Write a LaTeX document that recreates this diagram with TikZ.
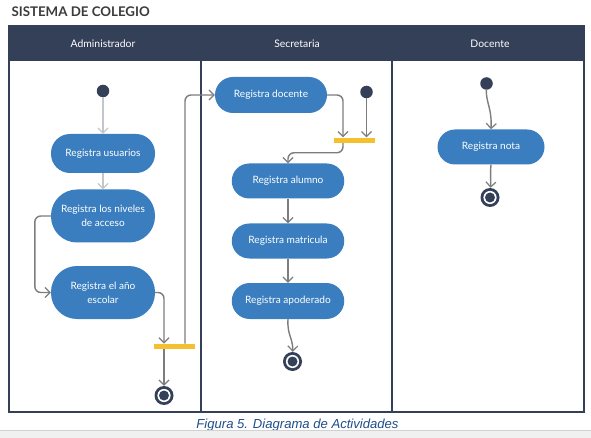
\documentclass[tikz,border=0pt]{standalone}
\usepackage{fontspec}
\setmainfont{Lato}
\newfontfamily\capfont{Liberation Sans}
\usetikzlibrary{arrows.meta,calc}
\definecolor{navy}{RGB}{52,63,88}
\definecolor{actblue}{RGB}{58,126,191}
\definecolor{baryellow}{RGB}{245,192,48}
\definecolor{flowgray}{RGB}{125,125,125}
\definecolor{lightflow}{RGB}{195,198,202}
\definecolor{capblue}{RGB}{31,78,137}
\definecolor{titlegray}{RGB}{60,60,60}
\begin{document}
\begin{tikzpicture}[x=1pt,y=-1pt,
  act/.style={fill=actblue, text=white, inner sep=0pt, align=center, font=\fontsize{10.1}{14}\selectfont},
  startnode/.style={circle, fill=navy, inner sep=0pt, minimum size=12.5pt},
  endnode/.style={circle, fill=navy, inner sep=0pt, minimum size=19pt,
     path picture={\fill[white] (path picture bounding box.center) circle (6.6pt);
                   \fill[navy] (path picture bounding box.center) circle (5pt);}},
  forkbar/.style={fill=baryellow, inner sep=0pt, minimum width=41pt, minimum height=5.5pt},
  flow/.style={draw=flowgray, line width=1.4pt, rounded corners=6pt, -{Straight Barb[length=5pt,width=10pt,line width=1.2pt]}},
  lflow/.style={flow, draw=lightflow},
  lane/.style={draw=navy, line width=1.6pt},
  headtxt/.style={text=white, font=\fontsize{10.4}{12}\selectfont}
]
\useasboundingbox (0,0) rectangle (591,438);
\fill[white] (0,0) rectangle (591,438);
% title
\node[anchor=west, font=\bfseries\fontsize{13.3}{15}\selectfont, text=titlegray] (title) at (8,12) {SISTEMA DE COLEGIO};
% frame
\fill[navy] (9,26) rectangle (584,61);
\draw[lane] (9,26) rectangle (584,412);
\draw[lane] (201,61) -- (201,412);
\draw[lane] (392,61) -- (392,412);
\node[headtxt] (h1) at (103,44) {Administrador};
\node[headtxt] (h2) at (297,44) {Secretaria};
\node[headtxt] (h3) at (490,44) {Docente};
% Administrador
\node[startnode] (s1) at (103,91) {};
\node[act, minimum width=104pt, minimum height=39pt, rounded corners=19pt] (usu) at (103,153.5) {Registra usuarios};
\node[act, minimum width=104pt, minimum height=53pt, rounded corners=26pt] (niv) at (103,216) {Registra los niveles\\de acceso};
\node[act, minimum width=104pt, minimum height=53pt, rounded corners=26pt] (anio) at (103,292.5) {Registra el año\\escolar};
\node[forkbar] (bar1) at (174.5,346.5) {};
\node[endnode] (e1) at (164,395.5) {};
% Secretaria
\node[act, minimum width=112pt, minimum height=36pt, rounded corners=18pt] (doc) at (271,95) {Registra docente};
\node[startnode] (s2) at (366.5,92) {};
\node[forkbar] (bar2) at (354.5,140.3) {};
\node[act, minimum width=112.5pt, minimum height=35pt, rounded corners=17.5pt] (alu) at (288,181) {Registra alumno};
\node[act, minimum width=112.5pt, minimum height=35pt, rounded corners=17.5pt] (mat) at (288,241) {Registra matricula};
\node[act, minimum width=112.5pt, minimum height=36pt, rounded corners=18pt] (apo) at (288,301) {Registra apoderado};
\node[endnode] (e2) at (292.5,361.5) {};
% Docente
\node[startnode] (s3) at (486.5,83.5) {};
\node[act, minimum width=107pt, minimum height=35pt, rounded corners=17.5pt] (nota) at (491,147) {Registra nota};
\node[endnode] (e3) at (490,197.5) {};
% connectors
\draw[lflow] (s1) -- (usu);
\draw[lflow] (usu) -- (niv);
\draw[flow] (niv.west) -- ++(-16,0) |- (anio.west);
\draw[flow] (anio.east) -| (e1 |- bar1.north);
\draw[flow] (e1 |- bar1.south) -- (e1);
\draw[flow] ([xshift=10.5pt]bar1.north) |- (doc.west);
\draw[flow] (doc.east) -| ([xshift=-11.5pt]bar2.north);
\draw[flow] (s2) -- (s2 |- bar2.north);
\draw[flow] ([xshift=-11.5pt]bar2.south) -- ++(0,9.5) -| (alu.north);
\draw[flow] (alu) -- (mat);
\draw[flow] (mat) -- (apo);
\draw[flow] (apo.south) .. controls (287,335) and (293,338) .. (e2);
\draw[flow] (s3) .. controls (486,103) and (492,108) .. (nota.north);
\draw[flow] (nota.south) .. controls (490,175) and (491,180) .. (e3);
% caption
\node[font=\capfont\itshape\fontsize{13.1}{15}\selectfont, text=capblue, anchor=base] (cap) at (297.5,428.8) {Figura 5. Diagrama de Actividades};
\fill[black!6] (0,430.5) rectangle (591,438);
\draw[black!18, line width=0.8pt] (0,430.5) -- (591,430.5);
\end{tikzpicture}
\end{document}
